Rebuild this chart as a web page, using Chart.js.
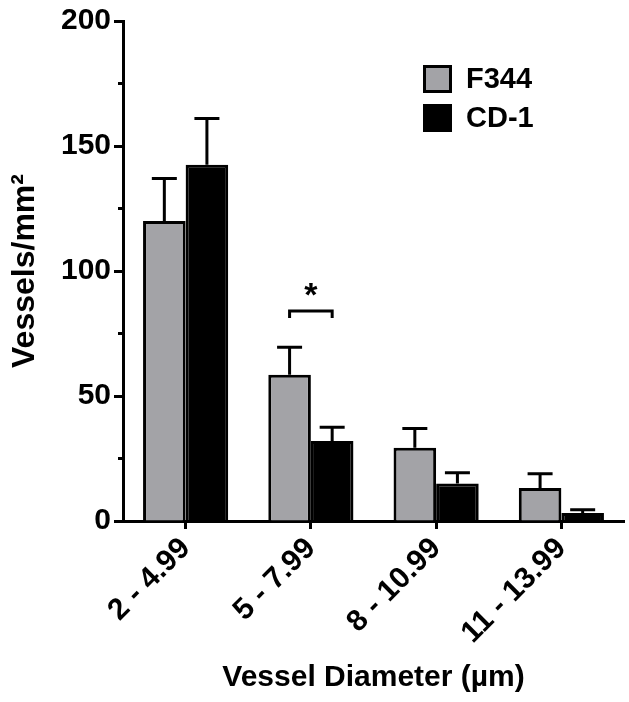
<!DOCTYPE html>
<html>
<head>
<meta charset="utf-8">
<script src="https://cdn.jsdelivr.net/npm/chart.js@4.4.1/dist/chart.umd.min.js"></script>
<style>
  html, body { margin: 0; padding: 0; background: #fff; }
  #wrap { width: 629px; height: 702px; position: relative; }
</style>
</head>
<body>
<div id="wrap"><canvas id="chart"></canvas></div>
<script>
const categories = ['2 - 4.99', '5 - 7.99', '8 - 10.99', '11 - 13.99'];
const seriesNames = ['F344', 'CD-1'];
const f344Mean = [120, 58.5, 29.3, 13.2];
const f344Sem = [17, 11, 7.7, 5.7];
const cd1Mean = [142.5, 32, 15, 3.2];
const cd1Sem = [18.5, 5.5, 4.3, 1.3];
const minorTicks = [25, 75, 125, 175];
// significance bracket: category, height of bracket, label
const sigCats = [1];
const sigHeights = [84];
const sigLabels = ['*'];

const FONT = "'Liberation Sans', Arial, Helvetica, sans-serif";
const GRAY = '#a3a3a7';

// error bars (upper only), drawn from the SEM arrays
const errorBars = {
  id: 'errorBars',
  afterDatasetsDraw(chart) {
    const c = chart.ctx;
    const y = chart.scales.y;
    const sems = [f344Sem, cd1Sem];
    c.save();
    c.strokeStyle = '#000';
    c.lineWidth = 3;
    c.lineCap = 'butt';
    chart.data.datasets.forEach((ds, i) => {
      const meta = chart.getDatasetMeta(i);
      meta.data.forEach((bar, j) => {
        const top = y.getPixelForValue(ds.data[j] + sems[i][j]);
        c.beginPath();
        c.moveTo(bar.x, bar.y);
        c.lineTo(bar.x, top);
        c.moveTo(bar.x - 12.5, top);
        c.lineTo(bar.x + 12.5, top);
        c.stroke();
      });
    });

    // significance bracket
    sigCats.forEach((cat, k) => {
      const x1 = chart.getDatasetMeta(0).data[cat].x;
      const x2 = chart.getDatasetMeta(1).data[cat].x;
      const by = y.getPixelForValue(sigHeights[k]);
      c.beginPath();
      c.moveTo(x1, by + 7);
      c.lineTo(x1, by);
      c.lineTo(x2, by);
      c.lineTo(x2, by + 7);
      c.stroke();
      c.fillStyle = '#000';
      c.font = 'bold 34px ' + FONT;
      c.textAlign = 'center';
      c.textBaseline = 'alphabetic';
      c.fillText(sigLabels[k], (x1 + x2) / 2, by - 5);
    });

    // short minor ticks on the y axis
    const left = chart.chartArea.left;
    minorTicks.forEach(v => {
      const py = y.getPixelForValue(v);
      c.beginPath();
      c.moveTo(left - 5, py);
      c.lineTo(left, py);
      c.stroke();
    });
    c.restore();
  }
};

// legend drawn as a vertical list in the upper right
const boxLegend = {
  id: 'boxLegend',
  afterDraw(chart) {
    const c = chart.ctx;
    c.save();
    c.font = 'bold 29px ' + FONT;
    c.textAlign = 'left';
    c.textBaseline = 'middle';
    chart.data.datasets.forEach((ds, i) => {
      const x = 423, y = 65 + i * 39;
      c.fillStyle = ds.backgroundColor;
      c.fillRect(x, y, 29, 28);
      c.strokeStyle = '#000';
      c.lineWidth = 3;
      c.strokeRect(x + 1.5, y + 1.5, 26, 25);
      c.fillStyle = '#000';
      c.fillText(ds.label, 466, y + 15);
    });
    c.restore();
  }
};

new Chart(document.getElementById('chart'), {
  type: 'bar',
  data: {
    labels: categories,
    datasets: [
      {
        label: seriesNames[0],
        data: f344Mean,
        backgroundColor: GRAY,
        borderColor: '#000',
        borderWidth: 3,
        categoryPercentage: 0.68,
        barPercentage: 1.0
      },
      {
        label: seriesNames[1],
        data: cd1Mean,
        backgroundColor: '#000',
        borderColor: '#000',
        borderWidth: 3,
        categoryPercentage: 0.68,
        barPercentage: 1.0
      }
    ]
  },
  options: {
    responsive: true,
    maintainAspectRatio: false,
    animation: false,
    layout: { padding: { top: 21, right: 5, bottom: 0, left: 0 } },
    plugins: {
      legend: { display: false },
      tooltip: { enabled: false }
    },
    scales: {
      x: {
        grid: {
          offset: false,
          drawOnChartArea: false,
          tickLength: 8,
          tickWidth: 3,
          tickColor: '#000'
        },
        border: { color: '#000', width: 3 },
        ticks: {
          color: '#000',
          font: { family: FONT, size: 30, weight: 'bold' },
          minRotation: 45,
          maxRotation: 45,
          autoSkip: false,
          padding: 2
        },
        title: {
          display: true,
          text: 'Vessel Diameter (µm)',
          color: '#000',
          font: { family: FONT, size: 30, weight: 'bold' },
          padding: { top: 0, bottom: 6 }
        },
        afterFit(scale) { scale.height = 181; }
      },
      y: {
        min: 0,
        max: 200,
        grid: {
          drawOnChartArea: false,
          tickLength: 9,
          tickWidth: 3,
          tickColor: '#000'
        },
        border: { color: '#000', width: 3 },
        ticks: {
          stepSize: 50,
          color: '#000',
          font: { family: FONT, size: 30, weight: 'bold' },
          padding: 3
        },
        title: {
          display: true,
          text: 'Vessels/mm²',
          color: '#000',
          font: { family: FONT, size: 32, weight: 'bold' },
          padding: { top: 6, bottom: 0 }
        },
        afterFit(scale) { scale.width = 123; }
      }
    }
  },
  plugins: [errorBars, boxLegend]
});
</script>
</body>
</html>
